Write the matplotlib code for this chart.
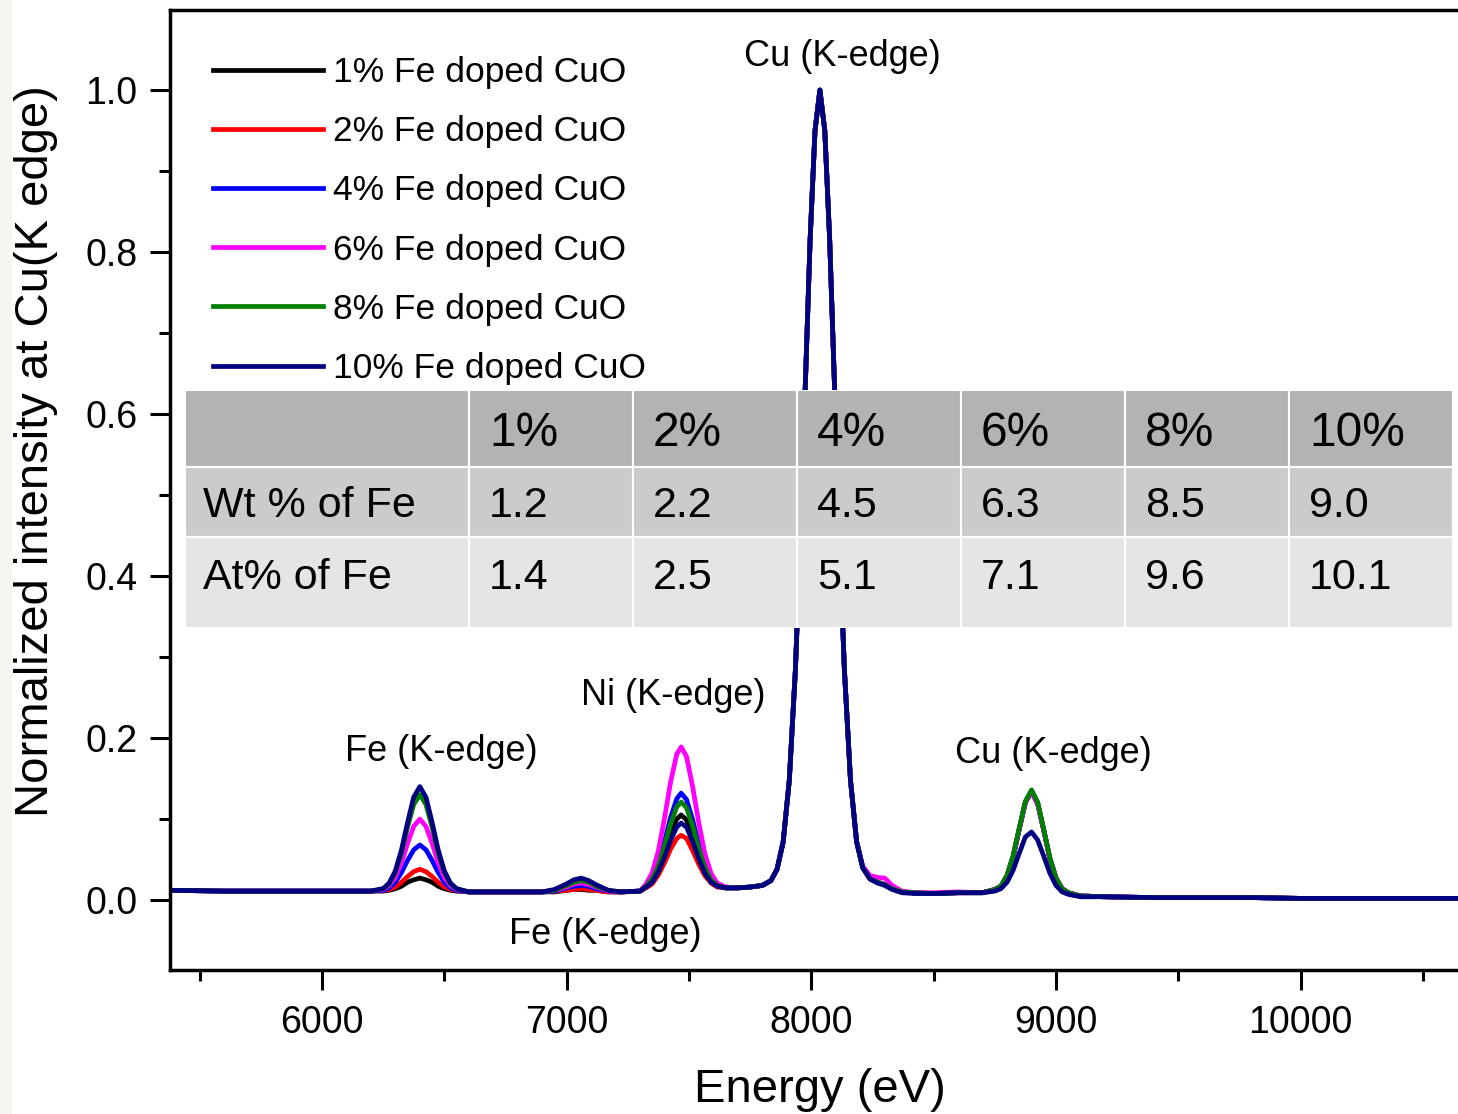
import matplotlib
matplotlib.use("Agg")
import matplotlib.pyplot as plt
from matplotlib.patches import Rectangle
from matplotlib.ticker import MultipleLocator, FormatStrFormatter

plt.rcParams['font.family'] = ['Liberation Sans', 'DejaVu Sans']

# ---------------------------------------------------------------- data
# Energy grid (eV): Fe Ka region, Fe Kb region, Ni Ka region, Cu Ka region, Cu Kb / tail
energy_ev = (
    [5380, 5600, 5800, 6000, 6150, 6200, 6250, 6275, 6300, 6325, 6350, 6375, 6400,
     6425, 6450, 6475, 6500, 6525, 6550, 6600, 6650]
    + [6700, 6800, 6900, 6950, 7000, 7030, 7060, 7090, 7120, 7170, 7220, 7300]
    + [7325, 7350, 7375, 7400, 7425, 7450, 7468, 7490, 7515, 7540, 7565, 7590, 7615, 7650, 7700]
    + [7750, 7800, 7835, 7860, 7885, 7910, 7935, 7955, 7975, 7995, 8015, 8035, 8055, 8075,
       8095, 8115, 8135, 8160, 8185, 8210, 8240, 8270, 8300, 8330, 8370, 8420, 8500]
    + [8600, 8700, 8750, 8775, 8800, 8825, 8850, 8875, 8900, 8925, 8950, 8975, 9000, 9025,
       9050, 9100, 9200, 9400, 9600, 9800, 10000, 10200, 10400, 10640]
)

fe1 = (
    [.012, .011, .011, .011, .011, .011, .011, .012, .014, .017, .022, .025, .027, .025, .022, .017, .014, .012, .011, .010, .010]
    + [.010, .010, .010, .010, .012, .013, .013, .012, .012, .010, .010, .011]
    + [.016, .024, .037, .058, .082, .100, .105, .099, .079, .056, .036, .024, .017, .015, .015]
    + [.016, .018, .024, .038, .072, .148, .285, .445, .632, .815, .950, 1.000, .950, .815, .632, .445, .285, .148, .072, .040, .026, .022, .019, .014, .010, .009, .008]
    + [.009, .009, .013, .017, .030, .054, .088, .121, .134, .119, .086, .051, .027, .014, .009, .005, .004, .003, .003, .003, .002, .002, .002, .002]
)
fe2 = (
    [.012, .011, .011, .011, .011, .011, .012, .013, .016, .022, .029, .035, .038, .035, .029, .022, .016, .013, .012, .010, .010]
    + [.010, .010, .010, .011, .012, .013, .014, .013, .012, .010, .010, .011]
    + [.015, .020, .031, .046, .063, .076, .080, .076, .061, .044, .030, .021, .016, .015, .015]
    + [.016, .018, .024, .038, .072, .148, .285, .445, .632, .815, .950, 1.000, .950, .815, .632, .445, .285, .148, .072, .040, .026, .022, .019, .014, .010, .009, .008]
    + [.009, .009, .013, .017, .030, .054, .088, .121, .134, .119, .086, .051, .027, .014, .009, .005, .004, .003, .003, .003, .002, .002, .002, .002]
)
fe4 = (
    [.012, .011, .011, .011, .011, .011, .012, .015, .022, .034, .049, .062, .068, .062, .049, .034, .022, .015, .012, .010, .010]
    + [.010, .010, .010, .011, .015, .017, .018, .017, .014, .011, .010, .011]
    + [.018, .027, .045, .072, .102, .125, .132, .124, .099, .068, .043, .027, .018, .015, .015]
    + [.016, .018, .024, .038, .072, .148, .285, .445, .632, .815, .950, 1.000, .950, .815, .632, .445, .285, .148, .072, .040, .026, .022, .019, .014, .010, .009, .008]
    + [.009, .009, .013, .017, .030, .054, .088, .121, .134, .119, .086, .051, .027, .014, .009, .005, .004, .003, .003, .003, .002, .002, .002, .002]
)
fe6 = (
    [.012, .011, .011, .011, .011, .011, .013, .018, .028, .046, .070, .091, .100, .091, .070, .046, .028, .018, .013, .010, .010]
    + [.010, .010, .010, .012, .016, .020, .021, .019, .016, .011, .010, .011]
    + [.020, .034, .061, .101, .146, .180, .189, .177, .140, .095, .057, .033, .021, .016, .015]
    + [.016, .018, .024, .038, .072, .148, .285, .445, .632, .815, .950, 1.000, .950, .815, .632, .445, .285, .148, .072, .042, .030, .028, .027, .018, .011, .009, .009]
    + [.010, .009, .013, .017, .030, .054, .088, .121, .134, .119, .086, .051, .027, .014, .009, .005, .004, .003, .003, .003, .002, .002, .002, .002]
)
fe8 = (
    [.012, .011, .011, .011, .011, .011, .014, .020, .034, .058, .090, .118, .130, .118, .090, .058, .034, .020, .014, .010, .010]
    + [.010, .010, .010, .012, .018, .022, .024, .022, .017, .012, .010, .011]
    + [.017, .026, .042, .067, .094, .115, .121, .114, .091, .063, .040, .025, .018, .015, .015]
    + [.016, .018, .024, .038, .072, .148, .285, .445, .632, .815, .950, 1.000, .950, .815, .632, .445, .285, .148, .072, .040, .026, .022, .019, .014, .010, .009, .008]
    + [.009, .009, .013, .017, .031, .055, .089, .122, .136, .121, .087, .052, .027, .014, .009, .005, .004, .003, .003, .003, .002, .002, .002, .002]
)
fe10 = (
    [.012, .011, .011, .011, .011, .011, .014, .021, .036, .062, .096, .127, .140, .127, .096, .062, .036, .021, .014, .010, .010]
    + [.010, .010, .010, .013, .020, .025, .027, .024, .019, .012, .010, .011]
    + [.016, .022, .035, .053, .074, .090, .095, .090, .072, .051, .033, .022, .017, .015, .015]
    + [.016, .018, .024, .038, .072, .148, .285, .445, .632, .815, .950, 1.000, .950, .815, .632, .445, .285, .148, .072, .040, .026, .021, .018, .013, .009, .008, .008]
    + [.009, .009, .011, .014, .022, .037, .058, .078, .084, .074, .054, .033, .018, .010, .007, .004, .004, .003, .003, .003, .002, .002, .002, .002]
)

series_labels = ["1% Fe doped CuO", "2% Fe doped CuO", "4% Fe doped CuO",
                 "6% Fe doped CuO", "8% Fe doped CuO", "10% Fe doped CuO"]
series_values = [fe1, fe2, fe4, fe6, fe8, fe10]
series_colors = ["#000000", "#ff0000", "#0000ff", "#ff00ff", "#008000", "#000080"]

# composition table
table_header = ["", "1%", "2%", "4%", "6%", "8%", "10%"]
row_labels = ["Wt % of Fe", "At% of Fe"]
wt_fe = ["1.2", "2.2", "4.5", "6.3", "8.5", "9.0"]
at_fe = ["1.4", "2.5", "5.1", "7.1", "9.6", "10.1"]

# peak labels: (text, energy, intensity)
peak_labels = [
    ("Cu (K-edge)", 8125, 1.042),
    ("Fe (K-edge)", 6486, 0.183),
    ("Ni (K-edge)", 7434, 0.252),
    ("Fe (K-edge)", 7159, -0.043),
    ("Cu (K-edge)", 8989, 0.181),
]

# ---------------------------------------------------------------- figure
W, H = 1458, 1114
fig = plt.figure(figsize=(W / 100, H / 100), dpi=100)
fig.patch.set_facecolor("white")

ax_l, ax_r, ax_t, ax_b = 170, 1460, 10, 970
ax = fig.add_axes([ax_l / W, 1 - ax_b / H, (ax_r - ax_l) / W, (ax_b - ax_t) / H])

for vals, col, lab in zip(series_values, series_colors, series_labels):
    ax.plot(energy_ev, vals, color=col, lw=3.4, label=lab, solid_joinstyle="round")

ax.set_xlim(5379, 10651)
ax.set_ylim(-0.0864, 1.0988)

ax.xaxis.set_major_locator(MultipleLocator(1000))
ax.xaxis.set_minor_locator(MultipleLocator(500))
ax.yaxis.set_major_locator(MultipleLocator(0.2))
ax.yaxis.set_minor_locator(MultipleLocator(0.1))
ax.yaxis.set_major_formatter(FormatStrFormatter("%.1f"))

ax.tick_params(which="both", direction="out", top=False, right=False, width=2.2, colors="black")
ax.tick_params(which="major", length=14.5, labelsize=27, pad=9)
ax.tick_params(axis="x", which="major", pad=11)
ax.tick_params(which="minor", length=8)
for side in ["left", "bottom", "top"]:
    ax.spines[side].set_linewidth(2.5)
    ax.spines[side].set_color("black")
ax.spines["right"].set_visible(False)

fig.text(820 / W, 1 - 1090 / H, "Energy (eV)", fontsize=34, ha="center", va="center")
fig.text(36 / W, 1 - 451 / H, "Normalized intensity at Cu(K edge)", fontsize=34,
         rotation=90, ha="center", va="center")

for txt, ex, iy in peak_labels:
    ax.text(ex, iy, txt, fontsize=26, ha="center", va="center")

leg = ax.legend(loc="upper left", bbox_to_anchor=((213 - ax_l) / (ax_r - ax_l), (ax_b - 56) / (ax_b - ax_t)),
                frameon=False, fontsize=25.5, handlelength=3.1, handletextpad=0.3,
                labelspacing=0.74, borderpad=0, borderaxespad=0)
for h in leg.get_lines():
    h.set_linewidth(3.4)

# faint strip at the left edge
fig.patches.append(Rectangle((0, 0), 12 / W, 1, transform=fig.transFigure,
                             facecolor="#f6f6f1", edgecolor="none", zorder=0))

# ---------------------------------------------------------------- table
t_l, t_r, t_t, t_b = 185, 1453, 390, 628
tax = fig.add_axes([t_l / W, 1 - t_b / H, (t_r - t_l) / W, (t_b - t_t) / H], zorder=5)
tax.set_xlim(0, t_r - t_l)
tax.set_ylim(t_b - t_t, 0)
tax.axis("off")

col_edges = [0, 284, 448, 612, 776, 940, 1104, 1268]
row_edges = [0, 77, 147, 238]
row_colors = ["#b3b3b3", "#cbcbcb", "#e5e5e5"]
text_y = [43, 39, 41]
text_size = [34.5, 31, 31]
rows = [table_header, [row_labels[0]] + wt_fe, [row_labels[1]] + at_fe]

for r, cells in enumerate(rows):
    for c, cell in enumerate(cells):
        x0, x1 = col_edges[c], col_edges[c + 1]
        y0, y1 = row_edges[r], row_edges[r + 1]
        tax.add_patch(Rectangle((x0, y0), x1 - x0, y1 - y0, facecolor=row_colors[r],
                                edgecolor="white", lw=1.5))
        if cell:
            pad = 18 if c == 0 else 20
            tax.text(x0 + pad, y0 + text_y[r], cell, fontsize=text_size[r],
                     ha="left", va="center", color="black")

fig.savefig("out.png", dpi=100, facecolor="white")
